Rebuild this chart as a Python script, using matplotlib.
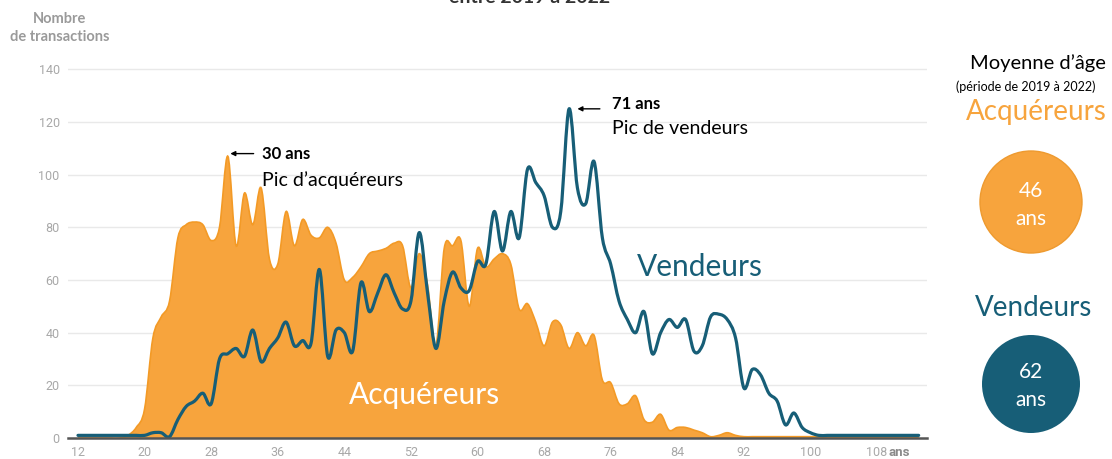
import numpy as np
import matplotlib
matplotlib.use("Agg")
import matplotlib.pyplot as plt
from matplotlib.path import Path
from matplotlib.patches import PathPatch, Circle

# ages 12..113
AGES = list(range(12, 114))
ACQUEREURS = [
    0, 0, 0, 0, 0, 0, 1, 4, 11, 38,            # 12-21
    46, 52, 76, 81, 82, 81, 75, 80, 107, 73,   # 22-31
    93, 81, 95, 68, 66, 86, 73, 83, 77, 76,    # 32-41
    80, 74, 60, 61, 65, 70, 71, 72, 74, 73,    # 42-51
    57, 70, 58, 35, 72, 73, 75, 50, 72, 65,    # 52-61
    68, 70, 66, 49, 51, 44, 35, 44, 43, 34,    # 62-71
    40, 35, 39, 22, 21, 13, 13, 16, 7, 6,      # 72-81
    9, 3, 4, 4, 3, 2, 0.5, 1, 2, 1,            # 82-91
    0.5, 0.5, 0.5, 0.5, 0.5, 0.5, 0.5, 0.5, 0.5, 0.5,  # 92-101
    0.4, 0.4, 0.4, 0.4, 0.4, 0.4, 0.4, 0.4, 0.4, 0.4,  # 102-111
    0.4, 0.4,                                  # 112-113
]
VENDEURS = [
    1, 1, 1, 1, 1, 1, 1, 1, 1, 2,              # 12-21
    2, 0.5, 7, 12, 14, 17, 13, 30, 32, 34,     # 22-31
    31, 41, 29, 34, 38, 44, 35, 37, 36, 64,    # 32-41
    31, 41, 40, 33, 59, 48, 55, 62, 55, 49,    # 42-51
    52, 78, 55, 34, 52, 63, 57, 56, 67, 66,    # 52-61
    86, 71, 86, 76, 102, 97, 92, 80, 86, 125,  # 62-71
    95, 89, 105, 76, 66, 52, 45, 40, 48, 32,   # 72-81
    40, 45, 42, 45, 33, 35, 46, 47, 45, 38,    # 82-91
    19, 26, 24, 17, 14, 5, 9.5, 4, 2, 1,       # 92-101
    1, 1, 1, 1, 1, 1, 1, 1, 1, 1,              # 102-111
    1, 1,                                      # 112-113
]
X_TICKS = [12, 20, 28, 36, 44, 52, 60, 68, 76, 84, 92, 100, 108]
Y_TICKS = [0, 20, 40, 60, 80, 100, 120, 140]
PIC_ACQ = (30, 107)
PIC_VEN = (71, 125)
MOY_ACQ = 46
MOY_VEN = 62

ORANGE = "#F7A43D"
ORANGE_EDGE = "#F39A26"
BLUE = "#175E77"
GRAY_TXT = "#A8A8A8"
FONT = "Lato"


def catmull_rom(x, y):
    # cubic bezier segments through every point (spline look of the original)
    p = np.column_stack([x, y]).astype(float)
    ext = np.vstack([p[0], p, p[-1]])
    verts = [p[0]]
    codes = [Path.MOVETO]
    for i in range(len(p) - 1):
        p0, p1, p2, p3 = ext[i], ext[i + 1], ext[i + 2], ext[i + 3]
        verts += [p1 + (p2 - p0) / 6, p2 - (p3 - p1) / 6, p2]
        codes += [Path.CURVE4] * 3
    return verts, codes


W, H = 1112, 459
fig = plt.figure(figsize=(W / 100, H / 100), dpi=100)
ax = fig.add_axes([68 / W, (H - 438) / H, 859 / W, 395 / H])
ax.set_xlim(10.8, 114)
ax.set_ylim(0, 150)

# buyers area
verts, codes = catmull_rom(AGES, ACQUEREURS)
fill_v = [(AGES[0], 0)] + verts + [(AGES[-1], 0), (AGES[0], 0)]
fill_c = [Path.MOVETO, Path.LINETO] + codes[1:] + [Path.LINETO, Path.CLOSEPOLY]
ax.add_patch(PathPatch(Path(fill_v, fill_c), facecolor=ORANGE, edgecolor="none", zorder=2))
ax.add_patch(PathPatch(Path(verts, codes), facecolor="none", edgecolor=ORANGE_EDGE,
                       lw=1.2, zorder=3))

# sellers line
verts, codes = catmull_rom(AGES, VENDEURS)
ax.add_patch(PathPatch(Path(verts, codes), facecolor="none", edgecolor=BLUE,
                       lw=2.3, zorder=4, capstyle="round", joinstyle="round"))

for yv in Y_TICKS[1:]:
    ax.axhline(yv, color="#E9E9E9", lw=1.0, zorder=1)

for s in ["top", "right", "left"]:
    ax.spines[s].set_visible(False)
ax.spines["bottom"].set_color("#555555")
ax.spines["bottom"].set_linewidth(1.8)
ax.spines["bottom"].set_zorder(5)

ax.set_xticks(X_TICKS)
ax.set_yticks(Y_TICKS)
ax.tick_params(length=0, labelsize=9, labelcolor=GRAY_TXT, pad=6)
for lab in ax.get_xticklabels() + ax.get_yticklabels():
    lab.set_fontfamily("Roboto")
ax.tick_params(axis="y", pad=6)
ax.annotate("ans", xy=(108, 0), xytext=(8, -6), textcoords="offset points",
            ha="left", va="top", fontsize=9.5, fontweight="bold", color="#8A8A8A",
            family="Roboto", annotation_clip=False)

# peak annotations
ax.annotate("", xy=(PIC_ACQ[0] + 0.3, PIC_ACQ[1] + 1), xytext=(33.1, PIC_ACQ[1] + 1),
            arrowprops=dict(arrowstyle="-|>", color="black", lw=1.0,
                            mutation_scale=7, shrinkA=0, shrinkB=0), zorder=6)
ax.text(34.1, 108, f"{PIC_ACQ[0]} ans", ha="left", va="center", fontsize=12,
        fontweight="bold", family=FONT, color="black")
ax.text(34.1, 98, "Pic d’acquéreurs", ha="left", va="center", fontsize=14,
        family=FONT, color="black")

ax.annotate("", xy=(PIC_VEN[0] + 1.0, 125), xytext=(74.7, 125),
            arrowprops=dict(arrowstyle="-|>", color="black", lw=1.0,
                            mutation_scale=7, shrinkA=0, shrinkB=0), zorder=6)
ax.text(76.1, 127, f"{PIC_VEN[0]} ans", ha="left", va="center", fontsize=12,
        fontweight="bold", family=FONT, color="black")
ax.text(76.1, 117.5, "Pic de vendeurs", ha="left", va="center", fontsize=14,
        family=FONT, color="black")

ax.text(79.2, 65, "Vendeurs", ha="left", va="center", fontsize=21.5,
        family=FONT, color=BLUE, zorder=6)
ax.text(44.5, 16.3, "Acquéreurs", ha="left", va="center", fontsize=21.5,
        family=FONT, color="white", zorder=6)

fig.text(60 / W, 1 - 28 / H, "Nombre\nde transactions", ha="center", va="center",
         fontsize=10.5, fontweight="bold", color="#9A9A9A", family=FONT,
         linespacing=1.45)
fig.text(530 / W, 1 - 3 / H, "entre 2019 à 2022", ha="center", va="baseline",
         fontsize=14, fontweight="bold", color="#333333", family=FONT)

# right panel: mean ages
rx = fig.add_axes([940 / W, 0, 172 / W, 1])
rx.set_xlim(940, 1112)
rx.set_ylim(H, 0)
rx.axis("off")
rx.text(1038, 63, "Moyenne d’âge", ha="center", va="center", fontsize=14.5,
        family=FONT, color="black")
rx.text(1026, 87, "(période de 2019 à 2022)", ha="center", va="center", fontsize=9,
        family=FONT, color="black")
rx.text(1036, 112, "Acquéreurs", ha="center", va="center", fontsize=20,
        family=FONT, color=ORANGE)
rx.add_patch(Circle((1031, 202), 51, facecolor=ORANGE, edgecolor="#EE9A2F", lw=1))
rx.text(1031, 205, f"{MOY_ACQ}\nans", ha="center", va="center", fontsize=15,
        family=FONT, color="white", linespacing=1.45)
rx.text(1034, 308, "Vendeurs", ha="center", va="center", fontsize=20,
        family=FONT, color=BLUE)
rx.add_patch(Circle((1031, 384), 49, facecolor=BLUE, edgecolor="none"))
rx.text(1031, 386, f"{MOY_VEN}\nans", ha="center", va="center", fontsize=15,
        family=FONT, color="white", linespacing=1.45)

fig.savefig("out.png", dpi=100, facecolor="white")
